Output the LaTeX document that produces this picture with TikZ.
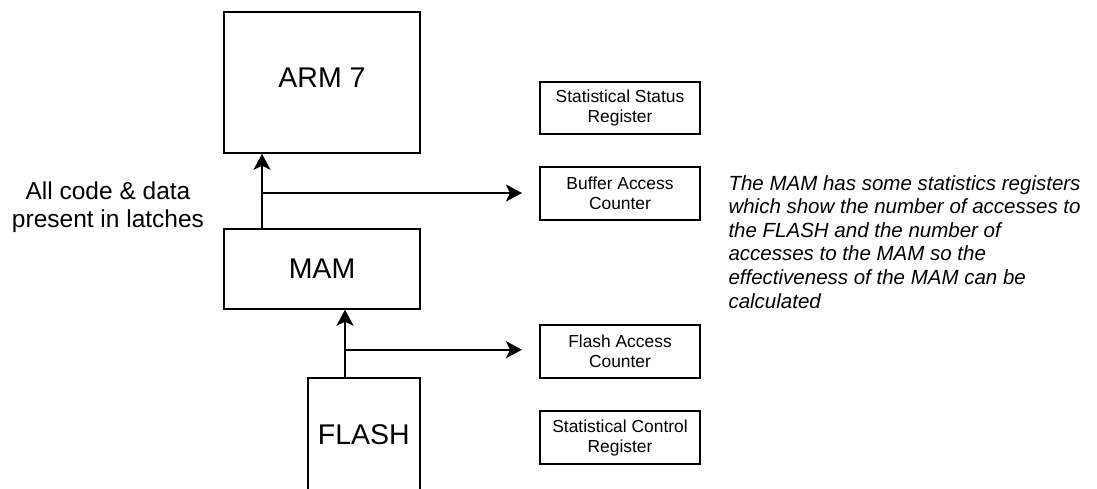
\documentclass[tikz,border=0pt]{standalone}
\usepackage{fontspec}
\setmainfont{Liberation Sans}
\usetikzlibrary{arrows.meta}
\begin{document}
\begin{tikzpicture}[x=1pt,y=-1pt,
  box/.style={draw, line width=2pt, inner sep=0pt},
  big/.style={font=\fontsize{28.5}{32}\selectfont},
  reg/.style={box, minimum width=160pt, minimum height=52.5pt, align=center, font=\fontsize{17.4}{20}\selectfont},
  arr/.style={line width=2.2pt, -{Stealth[length=16pt,width=17pt,inset=4pt]}},
  wire/.style={line width=2.2pt}]
\useasboundingbox (0,0) rectangle (1097,488);
% main blocks
\node[box,big,minimum width=196pt,minimum height=140.7pt,text height=21pt,text depth=10pt] (arm) at (322,82.4) {ARM 7};
\node[box,big,minimum width=196pt,minimum height=80pt] (mam) at (322,268.7) {MAM};
\node[box,big,minimum width=112.3pt,minimum height=114pt] (flash) at (363.85,435) {FLASH};
% registers
\node[reg] (ssr) at (620,108) {Statistical Status\\Register};
\node[reg] (buf) at (620,193.7) {Buffer Access\\Counter};
\node[reg] (fac) at (620,351.3) {Flash Access\\Counter};
\node[reg] (scr) at (620,437.5) {Statistical Control\\Register};
% branch points
\coordinate (s1) at (262,193);
\coordinate (s2) at (345,349.7);
% connectors
\draw[arr] (mam.north -| s1) -- (arm.south -| s1);
\draw[arr,shorten >=17pt] (s1) -- (s1 -| buf.west);
\draw[arr] (flash.north -| s2) -- (mam.south -| s2);
\draw[arr,shorten >=17pt] (s2) -- (s2 -| fac.west);
% texts
\node[align=center, font=\fontsize{24.5}{27.4}\selectfont, inner sep=0pt, anchor=north] (lbl) at (108,181.8) {All code \& data\\present in latches};
\node[anchor=north west, align=left, font=\fontsize{20.5}{23.6}\selectfont\itshape, inner sep=0pt] (note) at (728.3,175) {The MAM has some statistics registers\\which show the number of accesses to\\the FLASH and the number of\\accesses to the MAM so the\\effectiveness of the MAM can be\\calculated};
\end{tikzpicture}
\end{document}
